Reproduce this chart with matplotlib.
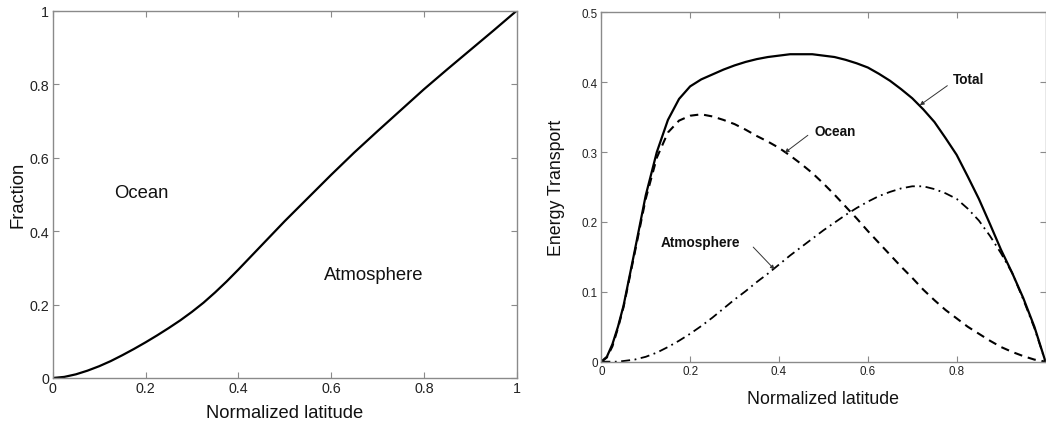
import matplotlib
matplotlib.use("Agg")
import matplotlib.pyplot as plt

plt.rcParams["font.family"] = ["Liberation Sans", "DejaVu Sans"]

# Left panel: fraction of transport carried by the atmosphere
lat_frac = [0.0, 0.025, 0.05, 0.075, 0.1, 0.125, 0.15, 0.175, 0.2, 0.225, 0.25,
            0.275, 0.3, 0.325, 0.35, 0.375, 0.4, 0.425, 0.45, 0.5,
            0.55, 0.6, 0.65, 0.7, 0.75, 0.8, 0.85, 0.9, 0.95, 1.0]
fraction = [0.0, 0.003, 0.010, 0.020, 0.032, 0.046, 0.062, 0.079, 0.097, 0.116, 0.136,
            0.157, 0.180, 0.205, 0.233, 0.263, 0.295, 0.328, 0.361, 0.427,
            0.490, 0.553, 0.614, 0.672, 0.729, 0.786, 0.840, 0.893, 0.946, 1.0]

# Right panel: energy transport components
lat = [0.0, 0.0125, 0.025, 0.0375, 0.05, 0.075, 0.1, 0.125, 0.15, 0.175, 0.2, 0.225,
       0.25, 0.275, 0.3, 0.325, 0.35, 0.375, 0.4, 0.425, 0.45, 0.475,
       0.5, 0.525, 0.55, 0.575, 0.6, 0.625, 0.65, 0.675, 0.7, 0.725,
       0.75, 0.775, 0.8, 0.825, 0.85, 0.875, 0.9, 0.925, 0.95, 0.975, 1.0]
total = [0.0, 0.007, 0.025, 0.050, 0.080, 0.158, 0.238, 0.300, 0.346, 0.376, 0.394, 0.404,
         0.411, 0.418, 0.424, 0.429, 0.433, 0.436, 0.438, 0.440, 0.440, 0.440,
         0.438, 0.436, 0.432, 0.427, 0.421, 0.412, 0.402, 0.390, 0.377, 0.361,
         0.343, 0.320, 0.296, 0.265, 0.233, 0.197, 0.160, 0.127, 0.091, 0.050, 0.0]
ocean = [0.0, 0.006, 0.022, 0.048, 0.078, 0.155, 0.233, 0.292, 0.328, 0.345, 0.352, 0.354,
         0.351, 0.346, 0.340, 0.332, 0.323, 0.315, 0.306, 0.295, 0.283, 0.270,
         0.255, 0.239, 0.222, 0.205, 0.187, 0.170, 0.153, 0.136, 0.120, 0.103,
         0.088, 0.074, 0.062, 0.050, 0.040, 0.030, 0.021, 0.014, 0.008, 0.003, 0.0]
atmos = [0.0, 0.0, 0.0, 0.0, 0.001, 0.003, 0.007, 0.013, 0.021, 0.030, 0.040, 0.051,
         0.063, 0.076, 0.089, 0.101, 0.114, 0.126, 0.139, 0.152, 0.164, 0.176,
         0.188, 0.199, 0.210, 0.220, 0.229, 0.237, 0.243, 0.248, 0.251, 0.251,
         0.247, 0.241, 0.233, 0.219, 0.202, 0.180, 0.155, 0.127, 0.089, 0.048, 0.0]

left_xticks = [0, 0.2, 0.4, 0.6, 0.8, 1.0]
left_xticklabels = ["0", "0.2", "0.4", "0.6", "0.8", "1"]
left_yticks = [0, 0.2, 0.4, 0.6, 0.8, 1.0]
left_yticklabels = ["0", "0.2", "0.4", "0.6", "0.8", "1"]
right_xticks = [0, 0.2, 0.4, 0.6, 0.8]
right_xticklabels = ["0", "0.2", "0.4", "0.6", "0.8"]
right_yticks = [0, 0.1, 0.2, 0.3, 0.4, 0.5]
right_yticklabels = ["0", "0.1", "0.2", "0.3", "0.4", "0.5"]

spine_col = "#8a8a8a"
W, H = 1046, 427
fig = plt.figure(figsize=(W / 100, H / 100), dpi=100)


def px_axes(x0, y0, x1, y1):
    return fig.add_axes([x0 / W, 1 - y1 / H, (x1 - x0) / W, (y1 - y0) / H])


def style(ax, fs):
    for s in ax.spines.values():
        s.set_color(spine_col)
        s.set_linewidth(1.0)
    ax.tick_params(direction="in", length=4, width=0.8, color=spine_col,
                   top=True, right=True, labelsize=fs, pad=2.5, labelcolor="#222222")


# ---- left panel ----
ax1 = px_axes(52.7, 11.7, 516.7, 379)
ax1.plot(lat_frac, fraction, color="black", lw=1.6, solid_joinstyle="round")
ax1.set_xlim(0, 1)
ax1.set_ylim(0, 1)
ax1.set_xticks(left_xticks, left_xticklabels)
ax1.set_yticks(left_yticks, left_yticklabels)
style(ax1, 10.3)
ax1.set_xlabel("Normalized latitude", fontsize=13.2, labelpad=6, color="#111111")
ax1.set_ylabel("Fraction", fontsize=13.2, labelpad=2, color="#111111")
ax1.text(0.192, 0.505, "Ocean", fontsize=13.3, ha="center", va="center", color="#111111")
ax1.text(0.691, 0.282, "Atmosphere", fontsize=13.3, ha="center", va="center", color="#111111")

# ---- right panel ----
ax2 = px_axes(601.3, 13.3, 1045.5, 362.7)
ax2.plot(lat, total, color="black", lw=1.6, solid_joinstyle="round")
ax2.plot(lat, ocean, color="black", lw=1.5, linestyle=(0, (4, 2.8)))
ax2.plot(lat, atmos, color="black", lw=1.3, linestyle=(0, (5, 2.5, 1, 2.5)))
ax2.set_xlim(0, 1)
ax2.set_ylim(0, 0.5)
ax2.set_xticks(right_xticks, right_xticklabels)
ax2.set_yticks(right_yticks, right_yticklabels)
style(ax2, 8.4)
ax2.set_xlabel("Normalized latitude", fontsize=12.8, labelpad=9, color="#111111")
ax2.set_ylabel("Energy Transport", fontsize=12.8, labelpad=12, color="#111111")

arrow = dict(arrowstyle="-|>", lw=0.7, color="#333333", mutation_scale=6,
             shrinkA=0, shrinkB=0)
label_kw = dict(fontsize=9.8, fontweight="bold", ha="center", va="center", color="#111111")
ax2.text(0.827, 0.404, "Total", **label_kw)
ax2.annotate("", xy=(0.717, 0.367), xytext=(0.779, 0.395), arrowprops=arrow)
ax2.text(0.527, 0.330, "Ocean", **label_kw)
ax2.annotate("", xy=(0.413, 0.299), xytext=(0.465, 0.324), arrowprops=arrow)
ax2.text(0.224, 0.171, "Atmosphere", **label_kw)
ax2.annotate("", xy=(0.390, 0.132), xytext=(0.342, 0.164), arrowprops=arrow)

fig.savefig("out.png", dpi=100)
